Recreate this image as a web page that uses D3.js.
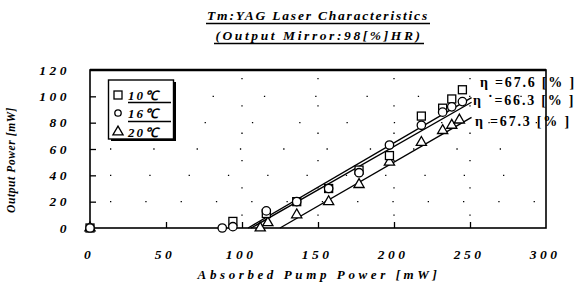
<!DOCTYPE html>
<html>
<head>
<meta charset="utf-8">
<script src="https://cdn.jsdelivr.net/npm/d3@7"></script>
<style>
  body { margin: 0; background: #fff; }
  svg { display: block; }
  text { font-family: "Liberation Serif", serif; fill: #000; }
</style>
</head>
<body>
<script>
const width = 587;
const height = 282;

// Series (absorbed pump power [mW] -> output power [mW])
const pump10 = [0, 94, 116, 136, 157, 177, 197, 218, 232, 238, 245];
const out10  = [0, 5, 11, 20, 30, 44, 55, 85, 91, 98, 105];
const pump16 = [0, 87, 94, 116, 136, 157, 177, 197, 218, 232, 238, 245];
const out16  = [0, 0, 1, 13, 20, 30, 42, 63, 78, 88, 92, 96];
const pump20 = [0, 112, 117, 136, 157, 177, 197, 218, 232, 238, 243];
const out20  = [0, 0, 4, 10, 20, 33, 50, 65, 74, 78, 82];

// fitted lines (start/end in data units)
const fit10 = [[104, 0], [251, 99]];
const fit16 = [[106, 0], [251, 95.5]];
const fit20 = [[125, 0], [251, 84]];

const seriesNames = ["10\u2103", "16\u2103", "20\u2103"];
const etaLabels = ["\u03b7 =67.6 [% ]", "\u03b7 \u02d9=66.3 [% ]", "\u03b7 =67.3 [% ]"];

const xTicks = [0, 50, 100, 150, 200, 250, 300];
const yTicks = [0, 20, 40, 60, 80, 100, 120];
const gridY = [20, 40, 60, 80, 100];
const gridX = [100, 150, 200, 250];

const x = d3.scaleLinear().domain([0, 300]).range([90, 546]);
const y = d3.scaleLinear().domain([0, 120]).range([228, 70]);

const svg = d3.select("body").append("svg")
    .attr("width", width)
    .attr("height", height);

// title
const title = svg.append("g").attr("font-weight", "bold").attr("font-style", "italic");
title.append("text")
    .attr("x", 318).attr("y", 20)
    .attr("text-anchor", "middle")
    .attr("font-size", 13.5)
    .attr("letter-spacing", 1.8)
    .text("Tm:YAG Laser Characteristics");
title.append("text")
    .attr("x", 319).attr("y", 40)
    .attr("text-anchor", "middle")
    .attr("font-size", 13.5)
    .attr("letter-spacing", 2.6)
    .text("(Output Mirror:98[%]HR)");
title.append("line").attr("x1", 206).attr("x2", 430).attr("y1", 23.5).attr("y2", 23.5)
    .attr("stroke", "#000").attr("stroke-width", 1.3);
title.append("line").attr("x1", 214).attr("x2", 424).attr("y1", 43.5).attr("y2", 43.5)
    .attr("stroke", "#000").attr("stroke-width", 1.3);

// sparse dotted grid
svg.append("g").selectAll("line").data(gridY).join("line")
    .attr("x1", x(0) + 20).attr("x2", x(300) - 4)
    .attr("y1", d => y(d)).attr("y2", d => y(d))
    .attr("stroke", "#000").attr("stroke-width", 1.3)
    .attr("stroke-dasharray", (d, i) => `1.3 ${34 + i * 4}`);
svg.append("g").selectAll("line").data(gridX).join("line")
    .attr("x1", d => x(d)).attr("x2", d => x(d))
    .attr("y1", y(120) + 8).attr("y2", y(0) - 6)
    .attr("stroke", "#000").attr("stroke-width", 1.3)
    .attr("stroke-dasharray", "1.3 26");

// frame
svg.append("rect")
    .attr("x", x(0)).attr("y", y(120))
    .attr("width", x(300) - x(0)).attr("height", y(0) - y(120))
    .attr("fill", "none").attr("stroke", "#000").attr("stroke-width", 1.6);
svg.append("line").attr("x1", x(0)).attr("x2", x(300))
    .attr("y1", y(120)).attr("y2", y(120))
    .attr("stroke", "#000").attr("stroke-width", 2.4);

// axes (inward ticks)
const xAxis = svg.append("g")
    .attr("transform", `translate(0,${y(0)})`)
    .call(d3.axisTop(x).tickValues(xTicks.slice(1, -1)).tickSize(6).tickFormat(""));
xAxis.select(".domain").remove();
xAxis.selectAll("line").attr("stroke-width", 1.3);

const yAxis = svg.append("g")
    .attr("transform", `translate(${x(0)},0)`)
    .call(d3.axisRight(y).tickValues(yTicks.slice(1, -1)).tickSize(6).tickFormat(""));
yAxis.select(".domain").remove();
yAxis.selectAll("line").attr("stroke-width", 1.3);

// tick labels
svg.append("g").selectAll("text").data(xTicks).join("text")
    .attr("x", d => x(d) - 1).attr("y", 259)
    .attr("text-anchor", "middle")
    .attr("font-size", 13.5).attr("font-weight", "bold").attr("font-style", "italic")
    .attr("letter-spacing", 3.5)
    .text(d => d);
svg.append("g").selectAll("text").data(yTicks).join("text")
    .attr("x", 70).attr("y", d => y(d) + 4.5)
    .attr("text-anchor", "end")
    .attr("font-size", 13.5).attr("font-weight", "bold").attr("font-style", "italic")
    .attr("letter-spacing", 3.5)
    .text(d => d);

// axis titles
svg.append("text")
    .attr("x", 319).attr("y", 279)
    .attr("text-anchor", "middle")
    .attr("font-size", 13).attr("font-weight", "bold").attr("font-style", "italic")
    .attr("letter-spacing", 3.6)
    .text("Absorbed Pump Power [mW]");
svg.append("text")
    .attr("transform", "translate(15,160) rotate(-90)")
    .attr("text-anchor", "middle")
    .attr("font-size", 11.5).attr("font-weight", "bold").attr("font-style", "italic")
    .attr("letter-spacing", 0.6)
    .text("Output Power [mW]");

// fit lines
const line = d3.line().x(d => x(d[0])).y(d => y(d[1]));
[fit10, fit16, fit20].forEach(f => {
    svg.append("path").attr("d", line(f))
        .attr("fill", "none").attr("stroke", "#000").attr("stroke-width", 1.4);
});

// markers
const sq = 8, r = 4.2, tri = 10;
function drawSquares(g, xs, ys) {
    g.selectAll("rect").data(xs).join("rect")
        .attr("x", (d, i) => x(d) - sq / 2).attr("y", (d, i) => y(ys[i]) - sq / 2)
        .attr("width", sq).attr("height", sq)
        .attr("fill", "#fff").attr("stroke", "#000").attr("stroke-width", 1.3);
}
function drawCircles(g, xs, ys) {
    g.selectAll("circle").data(xs).join("circle")
        .attr("cx", d => x(d)).attr("cy", (d, i) => y(ys[i])).attr("r", r)
        .attr("fill", "#fff").attr("stroke", "#000").attr("stroke-width", 1.3);
}
const triPath = d3.symbol().type(d3.symbolTriangle).size(tri * tri * 0.45);
function drawTriangles(g, xs, ys) {
    g.selectAll("path").data(xs).join("path")
        .attr("d", triPath)
        .attr("transform", (d, i) => `translate(${x(d)},${y(ys[i])})`)
        .attr("fill", "#fff").attr("stroke", "#000").attr("stroke-width", 1.3);
}
drawTriangles(svg.append("g"), pump20, out20);
drawSquares(svg.append("g"), pump10, out10);
drawCircles(svg.append("g"), pump16, out16);

// efficiency labels
const etaPos = [[480, 87], [473, 105], [475, 126]];
svg.append("g").selectAll("text").data(etaLabels).join("text")
    .attr("x", (d, i) => etaPos[i][0]).attr("y", (d, i) => etaPos[i][1])
    .attr("font-size", 14).attr("font-weight", "bold")
    .attr("letter-spacing", 1.8)
    .text(d => d);

// legend
const lg = svg.append("g");
lg.append("rect").attr("x", 111).attr("y", 82).attr("width", 65).attr("height", 59)
    .attr("fill", "#000");
lg.append("rect").attr("x", 108.5).attr("y", 80).attr("width", 65).attr("height", 59)
    .attr("fill", "#fff").attr("stroke", "#000").attr("stroke-width", 1.4);
const rowY = [95, 113, 132];
lg.append("rect").attr("x", 118 - 4).attr("y", rowY[0] - 4).attr("width", 8).attr("height", 8)
    .attr("fill", "#fff").attr("stroke", "#000").attr("stroke-width", 1.3);
lg.append("circle").attr("cx", 118).attr("cy", rowY[1]).attr("r", 3.2)
    .attr("fill", "#fff").attr("stroke", "#000").attr("stroke-width", 1.3);
lg.append("path").attr("d", triPath).attr("transform", `translate(118,${rowY[2]})`)
    .attr("fill", "#fff").attr("stroke", "#000").attr("stroke-width", 1.3);
lg.selectAll("text").data(seriesNames).join("text")
    .attr("x", 128).attr("y", (d, i) => rowY[i] + 5)
    .attr("font-size", 13).attr("font-weight", "bold").attr("font-style", "italic")
    .attr("letter-spacing", 2)
    .text(d => d);
[102.5, 121.5].forEach(v => {
    lg.append("line").attr("x1", 128).attr("x2", 171).attr("y1", v).attr("y2", v)
        .attr("stroke", "#000").attr("stroke-width", 1.3);
});
</script>
</body>
</html>
